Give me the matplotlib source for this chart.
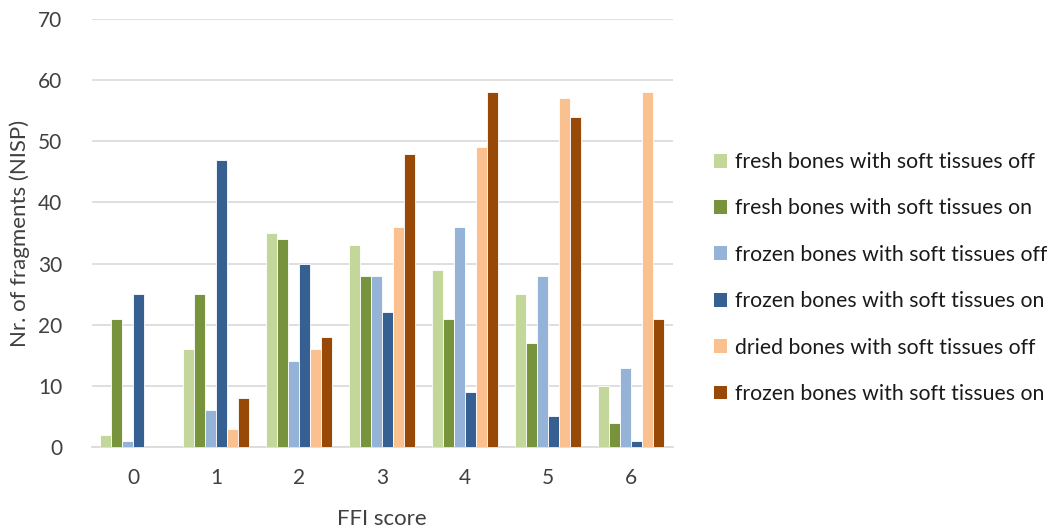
import numpy as np
import matplotlib.pyplot as plt
from matplotlib.patches import Patch

plt.rcParams['font.family'] = ['Lato', 'DejaVu Sans']

# FFI scores and fragment counts (NISP) per treatment
scores = ['0', '1', '2', '3', '4', '5', '6']
fresh_off = [2, 16, 35, 33, 29, 25, 10]
fresh_on = [21, 25, 34, 28, 21, 17, 4]
frozen_off = [1, 6, 14, 28, 36, 28, 13]
frozen_on = [25, 47, 30, 22, 9, 5, 1]
dried_off = [0, 3, 16, 36, 49, 57, 58]
frozen_on_2 = [0, 8, 18, 48, 58, 54, 21]

labels = ['fresh bones with soft tissues off',
          'fresh bones with soft tissues on',
          'frozen bones with soft tissues off',
          'frozen bones with soft tissues on',
          'dried bones with soft tissues off',
          'frozen bones with soft tissues on']
colors = ['#C4D79B', '#77933C', '#95B3D7', '#366092', '#FAC090', '#984807']
series = [fresh_off, fresh_on, frozen_off, frozen_on, dried_off, frozen_on_2]

fig = plt.figure(figsize=(10.63, 5.29), dpi=100)
ax = fig.add_axes([91.5 / 1063, 1 - 447 / 529, 581 / 1063, 428 / 529])

x = np.arange(len(scores))
slot = 0.133
for i, (vals, c) in enumerate(zip(series, colors)):
    ax.bar(x + (i - 2.5) * slot, vals, width=slot, color=c,
           edgecolor='white', linewidth=0.6, zorder=3)

ax.set_xlim(-0.5, 6.5)
ax.set_ylim(0, 70)
ax.set_yticks(range(0, 71, 10))
ax.set_xticks(x)
ax.set_xticklabels(scores)
ax.grid(axis='y', color='#D9D9D9', linewidth=1.2, zorder=0)
for s in ['top', 'right', 'left']:
    ax.spines[s].set_visible(False)
ax.spines['bottom'].set_color('#D9D9D9')
ax.spines['bottom'].set_linewidth(1.2)
ax.tick_params(length=0, labelsize=15, colors='#404040')
ax.tick_params(axis='x', pad=15)
ax.tick_params(axis='y', pad=21)

ax.set_xlabel('FFI score', fontsize=16, color='#404040', labelpad=15)
ax.set_ylabel('Nr. of fragments (NISP)', fontsize=16, color='#404040', labelpad=6)

handles = [Patch(facecolor=c, label=l) for c, l in zip(colors, labels)]
fig.legend(handles=handles, loc='center left', bbox_to_anchor=(714 / 1063, 1 - 278 / 529),
           frameon=False, fontsize=15.3, labelspacing=1.24, handlelength=0.62,
           handleheight=0.62, handletextpad=0.35, borderpad=0, borderaxespad=0,
           labelcolor='#1a1a1a')

fig.savefig('out.png', dpi=100)
